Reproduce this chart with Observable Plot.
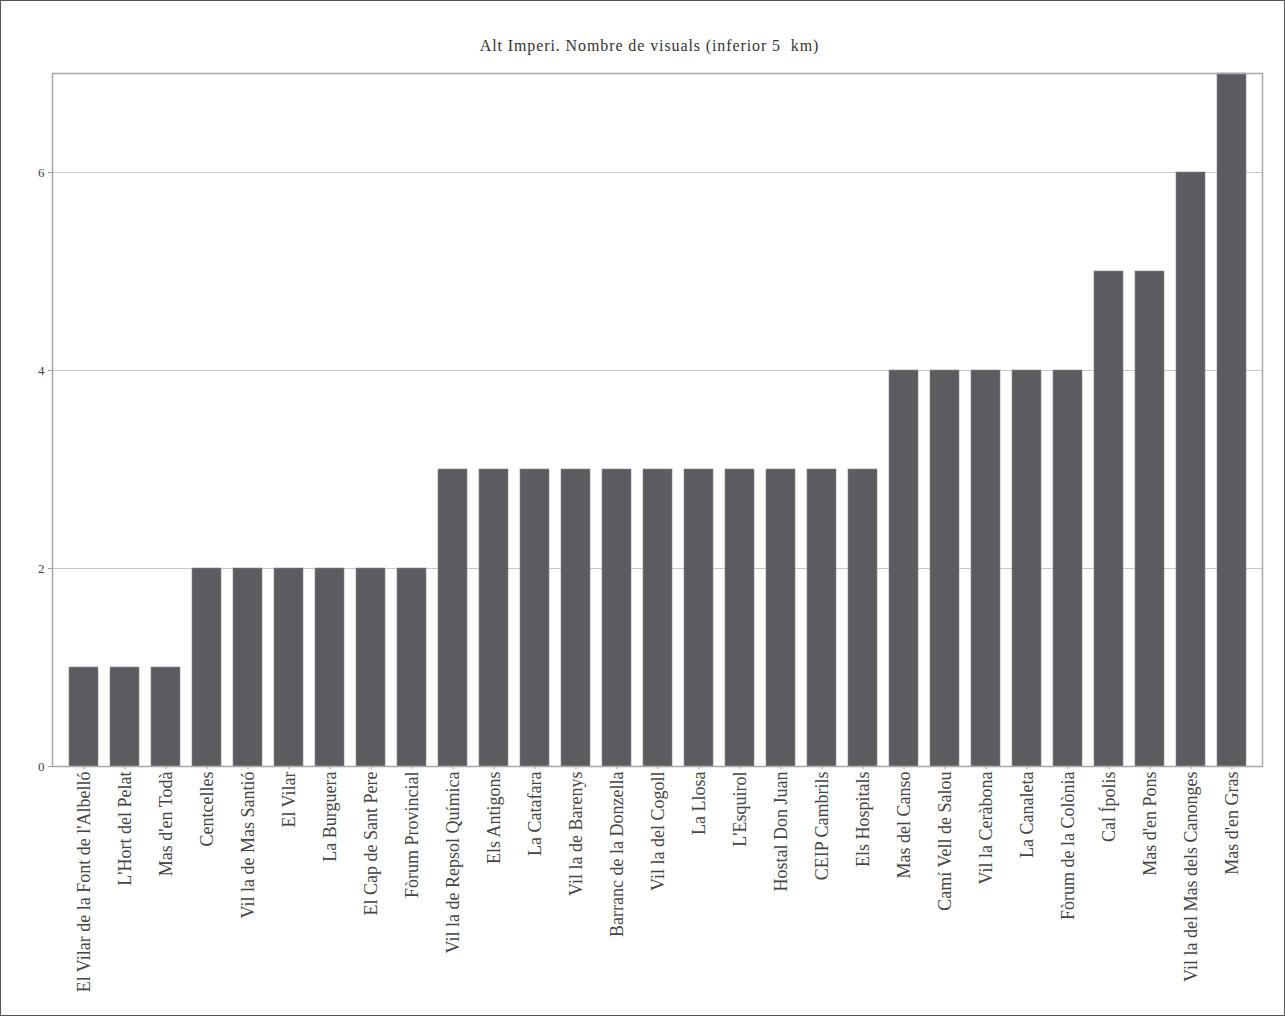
<!DOCTYPE html>
<html>
<head>
<meta charset="utf-8">
<script src="https://cdn.jsdelivr.net/npm/d3@7"></script>
<script src="https://cdn.jsdelivr.net/npm/@observablehq/plot@0.6"></script>
<style>
  html, body { margin: 0; padding: 0; background: #fff; }
  #wrap { width: 1285px; height: 1016px; box-sizing: border-box; border: 1px solid #555; position: relative; overflow: hidden; }
  #title { height: 60px; box-sizing: border-box; padding-top: 36px; padding-left: 14px; text-align: center; font-family: "Liberation Serif", serif; font-size: 16px; letter-spacing: 0.9px; color: #333; line-height: 18px; }
</style>
</head>
<body>
<div id="wrap">
  <div id="title">Alt Imperi. Nombre de visuals (inferior 5&nbsp; km)</div>
  <div id="chart"></div>
</div>
<script>
const categories = [
  "El Vilar de la Font de l'Albelló",
  "L'Hort del Pelat",
  "Mas d'en Todà",
  "Centcelles",
  "Vil la de Mas Santió",
  "El Vilar",
  "La Burguera",
  "El Cap de Sant Pere",
  "Fòrum Provincial",
  "Vil la de Repsol Química",
  "Els Antigons",
  "La Catafara",
  "Vil la de Barenys",
  "Barranc de la Donzella",
  "Vil la del Cogoll",
  "La Llosa",
  "L'Esquirol",
  "Hostal Don Juan",
  "CEIP Cambrils",
  "Els Hospitals",
  "Mas del Canso",
  "Camí Vell de Salou",
  "Vil la Ceràbona",
  "La Canaleta",
  "Fòrum de la Colònia",
  "Cal Ípolis",
  "Mas d'en Pons",
  "Vil la del Mas dels Canonges",
  "Mas d'en Gras"
];
const values = [1, 1, 1, 2, 2, 2, 2, 2, 2, 3, 3, 3, 3, 3, 3, 3, 3, 3, 3, 3, 4, 4, 4, 4, 4, 5, 5, 6, 7];
const yTicks = [0, 2, 4, 6];

const data = categories.map((c, i) => ({category: c, value: values[i]}));

const chart = Plot.plot({
  width: 1283,
  height: 954,
  marginLeft: 51,
  marginRight: 22,
  marginTop: 12,
  marginBottom: 249,
  style: {fontFamily: "Liberation Serif, serif", fontSize: "12px", color: "#444", background: "#fff"},
  x: {domain: categories, padding: 0.3, label: null},
  y: {domain: [0, 7], label: null},
  marks: [
    Plot.gridY(yTicks.filter(t => t > 0), {stroke: "#c8c8c8", strokeOpacity: 1, strokeWidth: 1}),
    Plot.barY(data, {x: "category", y: "value", fill: "#5c5c60", stroke: "#88888c", strokeWidth: 0.6}),
    Plot.axisY({ticks: yTicks, tickFormat: "d", tickSize: 4, tickPadding: 4, fontSize: 13, stroke: "#999"}),
    Plot.axisX({tickRotate: -90, tickSize: 3, tickPadding: 2, fontSize: 18, stroke: "#999"}),
    Plot.frame({stroke: "#a8a8a8", strokeWidth: 1.5})
  ]
});
document.getElementById("chart").appendChild(chart);
</script>
</body>
</html>
